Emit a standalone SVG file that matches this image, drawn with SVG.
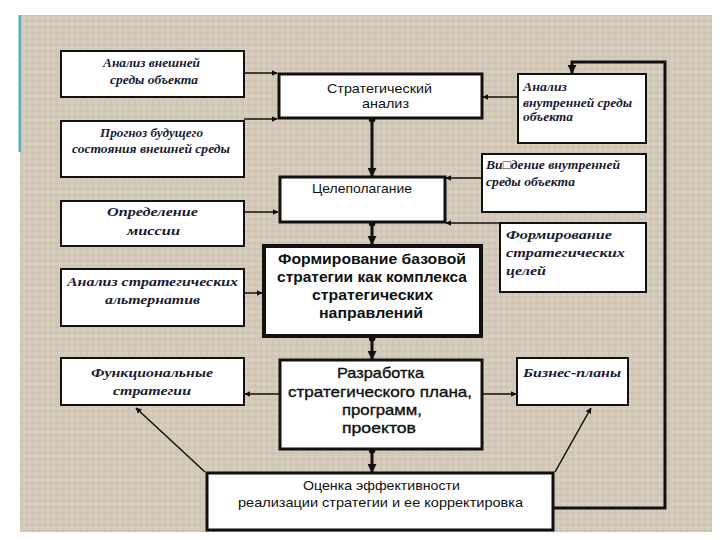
<svg xmlns="http://www.w3.org/2000/svg" width="720" height="540" viewBox="0 0 720 540">
<defs>
<pattern id="tex" width="6" height="6" patternUnits="userSpaceOnUse">
<rect width="6" height="6" fill="#d7cdbc"/>
<path d="M0 3H6M3 0V6" stroke="#cdc2b0" stroke-width="1"/>
</pattern>
<marker id="ah" viewBox="0 0 10 10" refX="9" refY="5" markerWidth="6" markerHeight="6" orient="auto" markerUnits="userSpaceOnUse">
<path d="M0 0L10 5L0 10Z" fill="#111"/>
</marker>
<marker id="ahb" viewBox="0 0 10 10" refX="9" refY="5" markerWidth="9" markerHeight="9" orient="auto" markerUnits="userSpaceOnUse">
<path d="M0 0L10 5L0 10Z" fill="#111"/>
</marker>
<marker id="dot" viewBox="0 0 10 10" refX="5" refY="5" markerWidth="7" markerHeight="7" markerUnits="userSpaceOnUse">
<circle cx="5" cy="5" r="5" fill="#111"/>
</marker>
</defs>
<style>
.side{fill:#fff;stroke:#111;stroke-width:2}
.main{fill:#fff;stroke:#111;stroke-width:3}
.it{font-family:"Liberation Serif","DejaVu Serif",serif;font-style:italic;font-weight:bold;fill:#1a1a33;font-size:12.5px}
.sans{font-family:"Liberation Sans",Arial,sans-serif;fill:#111}
.thin{fill:none;stroke:#111;stroke-width:1.5}
.thick{fill:none;stroke:#111;stroke-width:3}
</style>
<rect x="0" y="0" width="720" height="540" fill="#fff"/>
<rect x="20" y="15" width="692" height="517" fill="url(#tex)"/>
<rect x="18.5" y="15" width="2.5" height="137" fill="#5aaebf"/>

<g id="connectors">
<path class="thin" d="M244 73H277" marker-end="url(#ah)"/>
<path class="thin" d="M244 119H277" marker-end="url(#ah)"/>
<path class="thin" d="M518 97H483" marker-end="url(#ah)"/>
<path class="thick" d="M372 119V176" marker-start="url(#dot)" marker-end="url(#ahb)"/>
<path class="thick" d="M553 508H665V62H572V73" marker-end="url(#ahb)"/>
<path class="thin" d="M482 178H446" marker-end="url(#ah)"/>
<path class="thin" d="M500 223H446" marker-end="url(#ah)"/>
<path class="thin" d="M244 212H278" marker-end="url(#ah)"/>
<path class="thick" d="M372 223V244" marker-start="url(#dot)" marker-end="url(#ahb)"/>
<path class="thin" d="M244 293H262" marker-end="url(#ah)"/>
<path class="thick" d="M372 338V359" marker-start="url(#dot)" marker-end="url(#ahb)"/>
<path class="thin" d="M279 394H245" marker-end="url(#ah)"/>
<path class="thin" d="M482 394H516" marker-end="url(#ah)"/>
<path class="thick" d="M372 450V472" marker-start="url(#dot)" marker-end="url(#ahb)"/>
<path class="thin" d="M205 472L136 408" marker-end="url(#ah)"/>
<path class="thin" d="M555 472L591 408" marker-end="url(#ah)"/>
</g>

<g id="n-vneshn">
<rect class="side" x="61" y="51" width="183" height="46"/>
<text class="it" x="103" y="67" textLength="97" lengthAdjust="spacingAndGlyphs">Анализ внешней</text>
<text class="it" x="110" y="84" textLength="88" lengthAdjust="spacingAndGlyphs">среды объекта</text>
</g>
<g id="n-prognoz">
<rect class="side" x="61" y="121" width="183" height="56"/>
<text class="it" x="100" y="137" textLength="103" lengthAdjust="spacingAndGlyphs">Прогноз будущего</text>
<text class="it" x="72" y="153" textLength="158" lengthAdjust="spacingAndGlyphs">состояния внешней среды</text>
</g>
<g id="n-strat">
<rect class="main" x="279" y="74" width="203" height="44"/>
<text class="sans" font-size="13" x="327" y="93" textLength="105" lengthAdjust="spacingAndGlyphs">Стратегический</text>
<text class="sans" font-size="13" x="362" y="108" textLength="47" lengthAdjust="spacingAndGlyphs">анализ</text>
</g>
<g id="n-vnutr">
<rect class="side" x="518" y="74" width="128" height="69"/>
<text class="it" x="523" y="91" textLength="44" lengthAdjust="spacingAndGlyphs">Анализ</text>
<text class="it" x="523" y="107" textLength="109" lengthAdjust="spacingAndGlyphs">внутренней среды</text>
<text class="it" x="523" y="121" textLength="50" lengthAdjust="spacingAndGlyphs">объекта</text>
</g>
<g id="n-videnie">
<rect class="side" x="482" y="154" width="164" height="58"/>
<text class="it" x="486" y="169" textLength="134" lengthAdjust="spacingAndGlyphs">Ви□дение внутренней</text>
<text class="it" x="486" y="186" textLength="89" lengthAdjust="spacingAndGlyphs">среды объекта</text>
</g>
<g id="n-celepol">
<rect class="main" x="280" y="177" width="165" height="45"/>
<text class="sans" font-size="13" x="312" y="193" textLength="100" lengthAdjust="spacingAndGlyphs">Целеполагание</text>
</g>
<g id="n-missia">
<rect class="side" x="61" y="201" width="183" height="45"/>
<text class="it" font-size="13.5" x="107" y="216" textLength="91" lengthAdjust="spacingAndGlyphs">Определение</text>
<text class="it" font-size="13.5" x="127" y="235" textLength="53" lengthAdjust="spacingAndGlyphs">миссии</text>
</g>
<g id="n-celi">
<rect class="side" x="500" y="223" width="146" height="69"/>
<text class="it" font-size="13" x="506" y="239" textLength="106" lengthAdjust="spacingAndGlyphs">Формирование</text>
<text class="it" font-size="13" x="506" y="257" textLength="119" lengthAdjust="spacingAndGlyphs">стратегических</text>
<text class="it" font-size="13" x="506" y="275" textLength="40" lengthAdjust="spacingAndGlyphs">целей</text>
</g>
<g id="n-bazov">
<rect x="264" y="246" width="217" height="90" fill="#fff" stroke="#111" stroke-width="4"/>
<text class="sans" font-size="15" font-weight="bold" x="278" y="264" textLength="188" lengthAdjust="spacingAndGlyphs">Формирование базовой</text>
<text class="sans" font-size="15" font-weight="bold" x="277" y="282" textLength="190" lengthAdjust="spacingAndGlyphs">стратегии как комплекса</text>
<text class="sans" font-size="15" font-weight="bold" x="312" y="300" textLength="121" lengthAdjust="spacingAndGlyphs">стратегических</text>
<text class="sans" font-size="15" font-weight="bold" x="319" y="318" textLength="104" lengthAdjust="spacingAndGlyphs">направлений</text>
</g>
<g id="n-alt">
<rect class="side" x="61" y="269" width="183" height="57"/>
<text class="it" font-size="13" x="67" y="286" textLength="171" lengthAdjust="spacingAndGlyphs">Анализ стратегических</text>
<text class="it" font-size="13" x="105" y="304" textLength="95" lengthAdjust="spacingAndGlyphs">альтернатив</text>
</g>
<g id="n-funk">
<rect class="side" x="61" y="358" width="183" height="47"/>
<text class="it" font-size="13" x="91" y="377" textLength="122" lengthAdjust="spacingAndGlyphs">Функциональные</text>
<text class="it" font-size="13" x="113" y="395" textLength="78" lengthAdjust="spacingAndGlyphs">стратегии</text>
</g>
<g id="n-razrab">
<rect class="main" x="280" y="360" width="202" height="89"/>
<text class="sans" font-size="15" x="337" y="378" textLength="87" lengthAdjust="spacingAndGlyphs" stroke="#111" stroke-width="0.35">Разработка</text>
<text class="sans" font-size="15" x="288" y="397" textLength="184" lengthAdjust="spacingAndGlyphs" stroke="#111" stroke-width="0.35">стратегического плана,</text>
<text class="sans" font-size="15" x="342" y="415" textLength="80" lengthAdjust="spacingAndGlyphs" stroke="#111" stroke-width="0.35">программ,</text>
<text class="sans" font-size="15" x="342" y="433" textLength="74" lengthAdjust="spacingAndGlyphs" stroke="#111" stroke-width="0.35">проектов</text>
</g>
<g id="n-biznes">
<rect class="side" x="517" y="358" width="111" height="47"/>
<text class="it" font-size="13" x="523" y="377" textLength="98" lengthAdjust="spacingAndGlyphs">Бизнес-планы</text>
</g>
<g id="n-ocenka">
<rect class="main" x="207" y="473" width="346" height="57"/>
<text class="sans" font-size="13" x="303" y="490" textLength="157" lengthAdjust="spacingAndGlyphs">Оценка эффективности</text>
<text class="sans" font-size="13" x="238" y="507" textLength="285" lengthAdjust="spacingAndGlyphs">реализации стратегии и ее корректировка</text>
</g>
</svg>
